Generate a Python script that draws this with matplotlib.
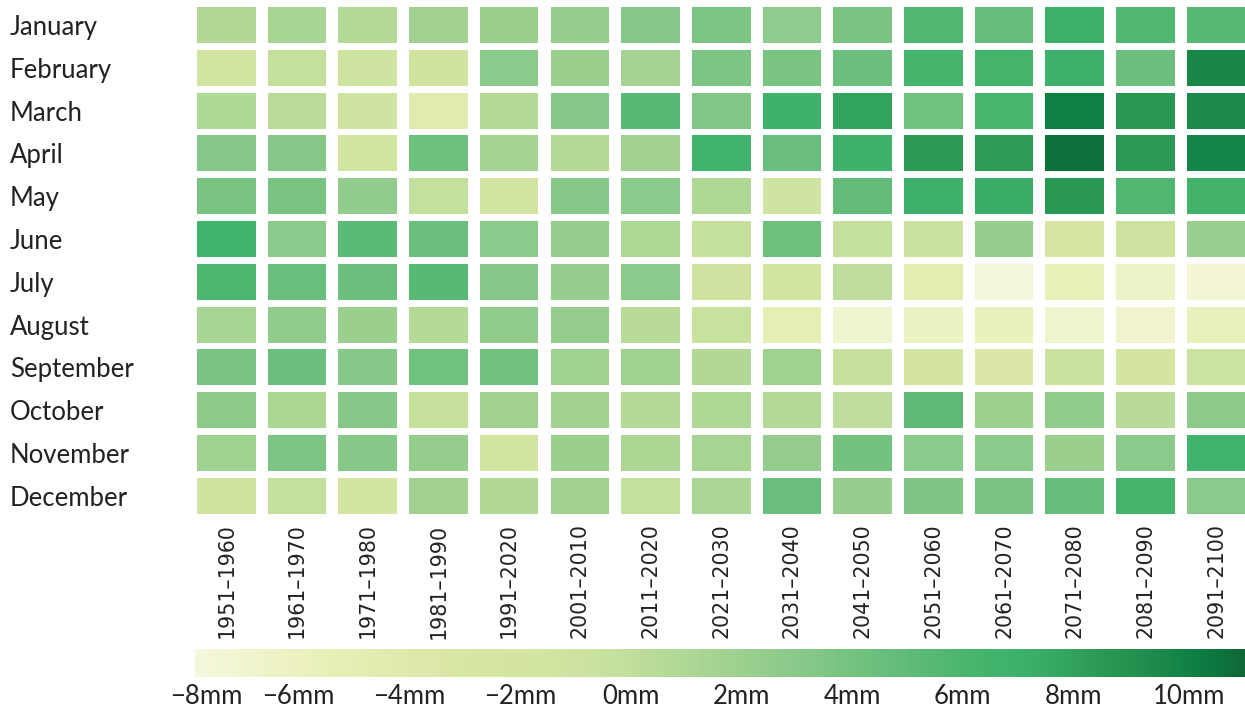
import numpy as np
import matplotlib
matplotlib.use("Agg")
import matplotlib.pyplot as plt
from matplotlib.colors import LinearSegmentedColormap, Normalize
from matplotlib.patches import Rectangle
from matplotlib.cm import ScalarMappable
import matplotlib.transforms as mtransforms

# ---- data: precipitation change (mm) by month and decade ----
months = ["January", "February", "March", "April", "May", "June", "July",
          "August", "September", "October", "November", "December"]
decades = ["1951–1960", "1961–1970", "1971–1980", "1981–1990", "1991–2020",
           "2001–2010", "2011–2020", "2021–2030", "2031–2040", "2041–2050",
           "2051–2060", "2061–2070", "2071–2080", "2081–2090", "2091–2100"]

jan = [0.8, 1.3, 0.7, 1.8, 2.1, 2.3, 3.3, 3.6, 2.7, 3.7, 5.7, 4.8, 7.0, 5.7, 5.4]
feb = [-1.5, -0.3, -1.2, -1.3, 3.0, 2.1, 1.6, 3.6, 3.8, 4.5, 6.3, 6.4, 6.9, 4.5, 9.7]
mar = [0.9, 0.3, -1.2, -4.4, 0.6, 3.3, 5.4, 3.4, 6.9, 7.9, 4.2, 6.2, 10.2, 8.6, 9.5]
apr = [3.3, 3.3, -1.5, 4.3, 1.6, 0.6, 1.7, 6.6, 4.5, 6.9, 8.5, 8.3, 10.8, 8.5, 9.9]
may = [3.8, 3.8, 2.6, -0.1, -1.5, 3.2, 2.9, 1.0, -1.2, 4.9, 6.9, 7.3, 8.7, 5.8, 6.5]
jun = [6.7, 2.9, 5.2, 4.5, 2.9, 2.4, 1.0, -0.3, 4.3, -0.2, -0.8, 2.3, -2.6, -1.1, 2.2]
jul = [6.0, 4.6, 4.5, 5.4, 3.3, 2.3, 2.9, -1.0, -1.5, 0.2, -4.8, -7.6, -5.5, -6.4, -7.3]
aug = [1.3, 2.6, 2.1, 0.6, 2.6, 2.4, 0.5, -0.5, -5.1, -7.0, -6.2, -5.8, -6.8, -6.7, -5.7]
sep = [3.8, 4.5, 3.2, 4.2, 4.1, 1.9, 1.9, 0.8, 1.9, -0.4, -2.0, -3.4, -0.8, -2.0, -0.9]
octo = [2.8, 1.2, 3.1, -0.4, 1.8, 1.7, 0.7, 1.0, 0.7, 0.1, 5.1, 2.0, 2.6, 0.5, 2.8]
nov = [1.9, 3.6, 3.1, 2.4, -1.4, 2.1, 1.2, 1.4, 2.5, 4.0, 3.0, 2.9, 2.1, 2.9, 6.6]
dec = [-1.3, -0.2, -1.8, 1.8, 0.8, 1.8, -0.1, 1.1, 4.5, 2.3, 3.5, 3.8, 4.8, 6.4, 2.9]

values = np.array([jan, feb, mar, apr, may, jun, jul, aug, sep, octo, nov, dec])

scale_min, scale_max = -7.87, 11.1
legend_ticks = [-8, -6, -4, -2, 0, 2, 4, 6, 8, 10]

# ---- colour scale ----
stop_vals = [-7.87, -5.96, -5.24, -3.8, -2.7, -1.26, -0.18, 0.9, 1.99,
             3.07, 4.15, 5.24, 6.32, 7.2, 8.1, 9.2, 10.5, 11.1]
stop_cols = ["#f5f7dc", "#ecf1bf", "#e6efb4", "#dde8a8", "#d6e6a2", "#d0e4a0",
             "#c4e09c", "#b0d896", "#9dd08f", "#88c98a", "#72c17f", "#5bba75",
             "#45b46d", "#3bb06a", "#30a05a", "#22904e", "#0b7a41", "#106838"]
pos = [(v - scale_min) / (scale_max - scale_min) for v in stop_vals]
cmap = LinearSegmentedColormap.from_list("precip", list(zip(pos, stop_cols)))
norm = Normalize(vmin=scale_min, vmax=scale_max)

W, H = 1245, 710
fig = plt.figure(figsize=(W / 100, H / 100), dpi=100)

# heatmap axes (pixel layout converted to figure fractions)
ax_left, ax_top, ax_w, ax_h = 191, 3.6, 1060.5, 513.6
ax = fig.add_axes([ax_left / W, 1 - (ax_top + ax_h) / H, ax_w / W, ax_h / H])

gap_x = 0.0856
gap_y = 0.079
n_rows, n_cols = values.shape
for i in range(n_rows):
    for j in range(n_cols):
        ax.add_patch(Rectangle((j + gap_x, i + gap_y), 1 - 2 * gap_x, 1 - 2 * gap_y,
                               facecolor=cmap(norm(values[i, j])), edgecolor="none"))

ax.set_xlim(0, n_cols)
ax.set_ylim(n_rows, 0)
for s in ax.spines.values():
    s.set_visible(False)

label_font = ["Lato", "DejaVu Sans"]
ax.set_yticks(np.arange(n_rows) + 0.5)
ax.set_yticklabels(months, fontsize=18.5, family=label_font, color="#222222")
ax.tick_params(axis="y", length=0, pad=(ax_left - 10) * 0.72)
for t in ax.get_yticklabels():
    t.set_horizontalalignment("left")

ax.set_xticks(np.arange(n_cols) + 0.5)
ax.set_xticklabels(decades, rotation=90, fontsize=14.8, family="DejaVu Sans",
                   color="#222222")
ax.tick_params(axis="x", length=0, pad=4.5)

# colour legend
cb_left, cb_top, cb_w, cb_h = 195, 649, 1050, 28
cax = fig.add_axes([cb_left / W, 1 - (cb_top + cb_h) / H, cb_w / W, cb_h / H])
cb = fig.colorbar(ScalarMappable(norm=norm, cmap=cmap), cax=cax,
                  orientation="horizontal")
cb.outline.set_visible(False)
cax.set_xticks([])
cax.set_yticks([])

trans = mtransforms.blended_transform_factory(cax.transData, cax.transAxes)
for k, v in enumerate(legend_ticks):
    shift = 0
    if k == 0:
        shift = 18
    elif k == len(legend_ticks) - 1:
        shift = 5
    tr = trans + mtransforms.ScaledTranslation(shift / 100, 0, fig.dpi_scale_trans)
    cax.text(v, -0.68, f"{v}mm".replace("-", "\u2212"), transform=tr,
             ha="center", va="center", fontsize=18.5, family=label_font,
             color="#222222", clip_on=False)

fig.savefig("out.png", dpi=100)
